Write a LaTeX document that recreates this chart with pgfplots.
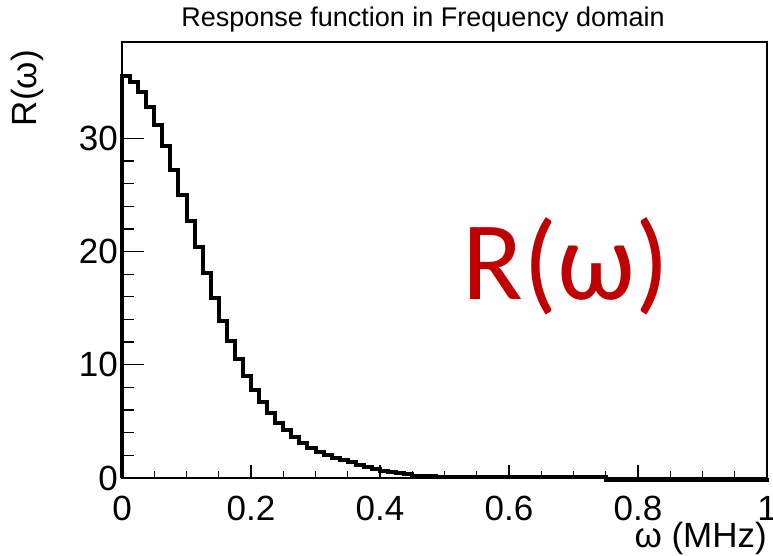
\documentclass[border=0pt]{standalone}
\usepackage{pgfplots}
\pgfplotsset{compat=1.18}
\usepackage{fontspec}
\setmainfont{Liberation Sans}
\newfontfamily\calib{Carlito}
\definecolor{pptred}{RGB}{192,0,0}

\pgfplotstableread{
w R
0 0
0 35.5
0.0125 35.0
0.025 34.1
0.0375 32.8
0.05 31.2
0.0625 29.3
0.075 27.2
0.0875 25.0
0.1 22.7
0.1125 20.4
0.125 18.1
0.1375 15.9
0.15 13.9
0.1625 12.1
0.175 10.5
0.1875 9.05
0.2 7.8
0.2125 6.7
0.225 5.75
0.2375 4.9
0.25 4.2
0.2625 3.6
0.275 3.1
0.2875 2.67
0.3 2.31
0.3125 2.04
0.325 1.8
0.3375 1.6
0.35 1.38
0.3625 1.14
0.375 0.94
0.3875 0.78
0.4 0.62
0.4125 0.5
0.425 0.4
0.4375 0.32
0.45 0.22
0.4625 0.18
0.475 0.15
0.4875 0.12
0.5 0.1
0.5125 0.06
0.525 0.06
0.5375 0.06
0.55 0.06
0.5625 0.06
0.575 0.06
0.5875 0.06
0.6 0.06
0.6125 0.06
0.625 0.06
0.6375 0.06
0.65 0.06
0.6625 0.06
0.675 0.06
0.6875 0.06
0.7 0.06
0.7125 0.06
0.725 0.06
0.7375 0.06
0.75 -0.15
0.7625 -0.15
0.775 -0.15
0.7875 -0.15
0.8 -0.15
0.8125 -0.15
0.825 -0.15
0.8375 -0.15
0.85 -0.15
0.8625 -0.15
0.875 -0.15
0.8875 -0.15
0.9 -0.15
0.9125 -0.15
0.925 -0.15
0.9375 -0.15
0.95 -0.15
0.9625 -0.15
0.975 -0.15
0.9875 -0.15
1 -0.15
1 0
}\histdata

\begin{document}
\begin{tikzpicture}
\useasboundingbox (-122pt,-77pt) rectangle (651pt,478pt);
% y ticks + frame + histogram
\begin{axis}[
  at={(0pt,0pt)}, anchor=south west,
  scale only axis, width=645pt, height=436pt,
  xmin=0, xmax=1, ymin=0, ymax=38.5,
  clip=false,
  axis line style={line width=1.6pt},
  xtick=\empty,
  ytick={0,10,20,30},
  minor y tick num=4,
  ytick pos=left,
  tick align=inside,
  major tick length=22pt, minor tick length=12pt,
  every tick/.style={line width=1.3pt, black},
  /pgf/number format/assume math mode=true,
  yticklabel style={font=\fontsize{35}{35}\selectfont, inner sep=0pt, xshift=-4pt},
]
\addplot[const plot mark left, line width=4pt, black] table[x=w, y=R] {\histdata};
\end{axis}
% x ticks
\begin{axis}[
  at={(0pt,0pt)}, anchor=south west,
  scale only axis, width=645pt, height=436pt,
  xmin=0, xmax=1, ymin=0, ymax=38.5,
  axis line style={draw=none},
  ytick=\empty,
  xtick={0,0.2,0.4,0.6,0.8,1},
  xticklabels={0,0.2,0.4,0.6,0.8,1},
  minor x tick num=3,
  xtick pos=bottom,
  tick align=inside,
  major tick length=13pt, minor tick length=7pt,
  every tick/.style={line width=1.3pt, black},
  xticklabel style={font=\fontsize{35}{35}\selectfont, inner sep=0pt, yshift=-18pt},
]
\end{axis}
\node[font=\fontsize{27}{27}\selectfont, anchor=base] at (301pt,451pt) {Response function in Frequency domain};
\node[font=\fontsize{35}{35}\selectfont, rotate=90, anchor=east, inner sep=0pt] at (-95pt,428pt) {R(ω)};
\node[font=\fontsize{35}{35}\selectfont, anchor=east, inner sep=0pt] at (645pt,-60pt) {ω (MHz)};
\node[text=pptred, font=\calib\fontsize{112}{112}\selectfont, inner sep=0pt] at (444pt,212pt) {R(ω)};
\end{tikzpicture}
\end{document}
